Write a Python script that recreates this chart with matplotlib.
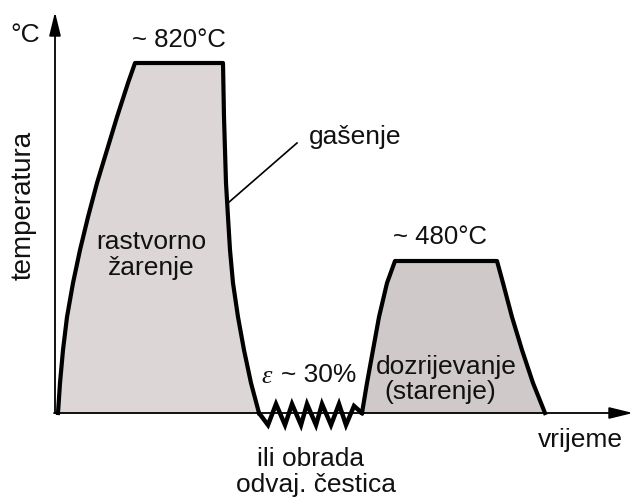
import numpy as np
import matplotlib.pyplot as plt

plt.rcParams['font.family'] = ['Liberation Sans', 'DejaVu Sans']

# schematic profile, time -> x, height above time axis -> y (arbitrary units)
base = 413
solution_t = [58, 60, 63, 67, 73, 80, 88, 97, 107, 117, 128, 135,
              223, 224, 225, 226, 228, 230, 233, 238, 244, 251, 259]
solution_h = [0, 30, 63, 96, 130, 163, 196, 230, 263, 296, 330, 350,
              350, 296, 263, 230, 196, 163, 130, 96, 63, 30, 0]

deform_t = [259, 268, 276, 285, 292, 301, 307, 316, 322, 331, 339, 346, 354, 362]
deform_h = [0, -12, 9, -12, 9, -12, 9, -12, 9, -12, 9, -12, 7, 0]

aging_t = [362, 367, 373, 379, 387, 395, 497, 503, 512, 522, 533, 545]
aging_h = [0, 30, 63, 96, 130, 152, 152, 130, 96, 63, 30, 0]

fig = plt.figure(figsize=(6.33, 5.0), dpi=100)
ax = fig.add_axes([0, 0, 1, 1])
ax.set_xlim(0, 633)
ax.set_ylim(base - 500, base)
ax.axis('off')

# fills
ax.fill(solution_t, solution_h, color='#dcd6d6', zorder=1)
ax.fill(aging_t, aging_h, color='#cfc9c9', zorder=1)

# axes arrows
ax.annotate('', xy=(55, base - 12), xytext=(55, 0),
            arrowprops=dict(arrowstyle='-|>,head_length=0.9,head_width=0.22',
                            lw=1.3, color='black', mutation_scale=16,
                            shrinkA=0, shrinkB=0))
ax.annotate('', xy=(633, 0), xytext=(54, 0),
            arrowprops=dict(arrowstyle='-|>,head_length=0.9,head_width=0.22',
                            lw=1.3, color='black', mutation_scale=16,
                            shrinkA=0, shrinkB=0))

# thick outlines
ax.plot(solution_t, solution_h, color='black', lw=3.0, solid_joinstyle='round', zorder=3)
ax.plot(deform_t, deform_h, color='black', lw=3.2, solid_joinstyle='miter', zorder=3)
ax.plot(aging_t, aging_h, color='black', lw=3.0, solid_joinstyle='round', zorder=3)

# leader line for quenching
ax.plot([228, 297], [base - 203, base - 143], color='black', lw=1.2, zorder=3)

fs = 19
def txt(x, y, s, size=fs, **kw):
    ax.text(x, base - y, s, fontsize=size, ha='center', va='center', color='#111111', **kw)

txt(25, 35, '°C')
txt(24, 205, 'temperatura', size=20, rotation=90)
txt(179, 40, '~ 820°C', size=18.5)
txt(440, 237, '~ 480°C', size=18.5)
txt(355, 137, 'gašenje')
txt(151, 242, 'rastvorno')
txt(151, 268, 'žarenje')
txt(446, 367, 'dozrijevanje')
txt(440, 392, '(starenje)')
ax.text(261, base - 377, 'ε', fontsize=fs, family='Liberation Serif', style='italic',
        ha='left', va='center', color='#111111')
ax.text(281, base - 375, '~ 30%', fontsize=fs, ha='left', va='center', color='#111111')
txt(580, 440, 'vrijeme')
txt(311, 459, 'ili obrada')
txt(316, 485, 'odvaj. čestica')

fig.savefig('out.png', dpi=100)
